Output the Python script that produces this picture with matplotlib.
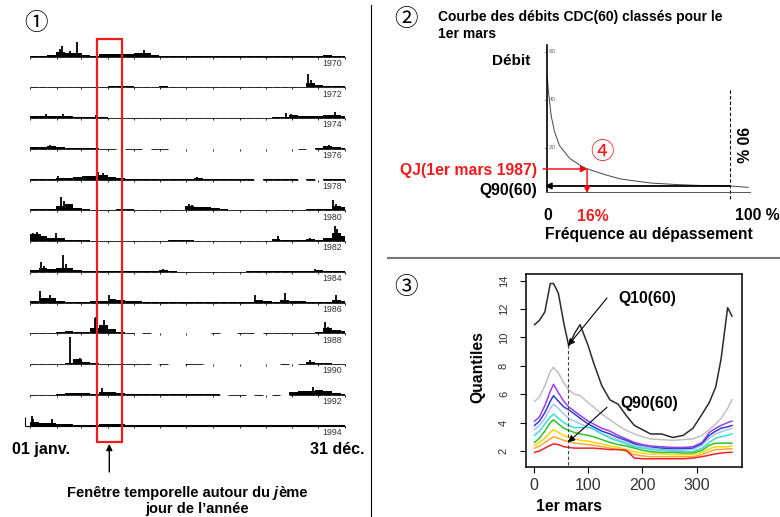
import numpy as np
import matplotlib
matplotlib.use('Agg')
import matplotlib.pyplot as plt
from matplotlib.patches import Rectangle

plt.rcParams['font.family'] = ['Liberation Sans', 'DejaVu Sans']
CJK = ['Noto Sans CJK JP', 'DejaVu Sans']
nan = np.nan

# ---------- panel 1 : hydrogrammes (pas de 10 jours, hauteur en px) ----------
years = [1970, 1972, 1974, 1976, 1978, 1980, 1982, 1984, 1986, 1988, 1990, 1992, 1994]

flow_1970 = [1, 1, 2, 5, 4, 4, 1.5, 1, 2.7, 2.7,
             3, 3, 3.3, 3.5, 1.5, 0.7, 0.5, 0.4, 0.3, 0.3,
             0.3, 0.3, 0.3, 0.3, 0.3, 0.3, 0.3, 0.3, 0.3, 0.3,
             0.3, 0.3, 0.3, 1, 1.5, 0.5, 0.3]
flow_1972 = [0.3, 0.3, 0.3, 0.6, 0.8, 0.6, 0.3, 0.3, 0.5, 1.2,
             1.5, 1, 0.5, 0.5, 0.8, 1.2, 0.6, 0.3, 0.3, 0.3,
             0.3, 0.3, 0.3, 0.3, 0.3, 0.3, 0.3, 0.3, 0.3, 0.3,
             0.3, 0.3, 4, 2.5, 1.2, 1, 1]
flow_1974 = [2, 2, 1.7, 2, 1.7, 1.2, 0.8, 1.5, 1.2, 0.5,
             0.3, 0.3, 0.3, 0.3, 0.3, 0.3, 0.3, 0.3, 0.3, 0.3,
             0.3, 0.3, 0.3, 0.3, 0.3, 0.3, 0.3, 0.3, 1, 1.5,
             3.5, 2, 2, 1.8, 3, 3.5, 2.5]
flow_1976 = [1.7, 1.7, 3, 1.7, 1.2, 0.7, 0.7, 0.5, 0.3, 0.3,
             nan, 0.3, 0.3, nan, 0.3, 0.3, nan, nan, nan, nan,
             nan, nan, nan, nan, nan, nan, nan, nan, nan, nan,
             nan, 0.3, nan, 1, 3, 1.5, 0.7]
flow_1978 = [0.7, 0.7, 1, 1.5, 1.5, 2.5, 4, 4, 5, 3,
             1.5, 0.8, 0.7, 0.7, 0.7, 0.7, 0.7, 0.7, 1, 2,
             0.8, 0.7, 0.7, 0.5, 0.5, 0.5, nan, 0.3, 0.3, 0.3,
             0.3, nan, 0.3, nan, 0.3, 0.7, 0.7]
flow_1980 = [1, 1, 1, 4, 6, 2.5, 1.5, 0.7, 0.5, 0.5,
             1, 1.3, 0.7, 0.5, 0.5, 0.7, 0.5, 0.7, 4, 3.5,
             3, 2.5, 1, 0.5, 0.5, 0.5, 0.5, 0.5, 0.5, 0.5,
             0.5, 0.7, 1, 1.2, 1.5, 4, 3]
flow_1982 = [7, 5, 3, 3.5, 1.5, 1, 0.8, 0.7, 0.7, 0.7,
             0.7, 0.7, 0.7, 0.7, 0.7, 0.7, 0.8, 1.5, 0.8, 0.5,
             0.5, 0.5, 0.5, 0.5, 0.5, 0.5, 0.5, 0.5, 2.5, 1.5,
             1.2, 1.3, 2, 1.3, 3, 8, 5]
flow_1984 = [1.5, 4, 2.5, 3.5, 4, 1.5, 1, 0.5, 0.5, 0.8,
             0.5, 0.5, 0.5, 0.5, 0.5, 1.5, 0.8, 0.4, 0.4, 0.4,
             0.4, 0.4, 0.4, 0.4, 0.4, 0.8, 1, 1.3, 1.3, 1.2,
             1, 0.8, 0.8, 2, 1, 0.7, 0.7]
flow_1986 = [2, 5, 5, 2, 0.7, 0.7, 0.7, 1.3, 2, 3.5,
             2.5, 1.5, 1.3, 1, 0.5, 0.5, 0.5, 0.5, 0.5, 0.5,
             0.5, 0.5, 0.5, 0.5, 0.5, 0.5, 3, 1.5, 0.5, 3,
             2, 1.5, 1, 1, 1, 2.5, 2]
flow_1988 = [0.7, 0.7, 0.7, 1.7, 2, 1.5, 1, 5, 8, 4,
             1.5, 0.5, nan, 0.3, nan, nan, nan, nan, nan, nan,
             nan, 0.3, nan, nan, 0.3, 0.3, nan, 0.3, 0.3, 0.3,
             0.5, 0.5, 0.5, 1, 5, 3, 2]
flow_1990 = [0.3, 0.3, 0.3, 0.3, 1, 5, 2.5, 1.5, 0.7, 0.5,
             0.5, 0.3, 0.3, 0.3, nan, 0.3, nan, nan, 0.3, 0.3,
             nan, nan, nan, nan, nan, nan, nan, nan, nan, 0.3,
             nan, 0.3, 2, 1.5, 1, 0.7, 0.7]
flow_1992 = [0.3, 0.3, 0.3, 0.5, 2.3, 2.3, 1.5, 1, 3, 2.5,
             1.5, 0.7, 0.5, 0.5, 0.5, 0.5, 0.5, 0.5, 0.5, 0.5,
             0.5, 0.5, nan, 0.3, 0.3, nan, 0.3, nan, 0.3, nan,
             3, 3.5, 3.5, 4.5, 3.5, 1.5, 1]
flow_1994 = [4, 3, 3, 2, 1.5, 1, 1, 1, 1.5, 1.3,
             1.3, 0.5, 0.3, 0.3, 0.7, 0.5, 0.3, 0.3, 0.3, 0.3,
             0.3, 0.3, 0.3, 0.3, 0.3, 0.3, 0.3, 0.3, 0.3, 0.3,
             0.3, 0.3, 0.3, 0.3, 0.7, 0.7, 0.7]

# pointes de crue (jour, hauteur)
peaks_1970 = [(35, 8), (37, 11), (46, 6), (54, 15), (132, 7)]
peaks_1972 = [(322, 13), (326, 7)]
peaks_1974 = [(19, 4), (38, 4), (77, 3), (297, 5), (302, 4.5), (353, 6)]
peaks_1976 = [(23, 4), (346, 4)]
peaks_1978 = [(33, 4), (79, 8), (85, 6.7), (193, 2.7)]
peaks_1980 = [(36, 13), (39, 9), (184, 6.7), (188, 5), (351, 10), (354, 6)]
peaks_1982 = [(4, 8), (8, 9), (12, 7), (30, 8), (287, 5), (325, 3.3), (353, 15), (356, 12)]
peaks_1984 = [(13, 10), (16, 6), (38, 16.7), (42, 8), (154, 2.7), (330, 3.3)]
peaks_1986 = [(12, 11.7), (23, 8), (91, 8), (261, 8), (296, 10), (355, 8)]
peaks_1988 = [(75, 15), (77, 16.7), (86, 13), (342, 11.7), (345, 6)]
peaks_1990 = [(46, 27), (58, 6.7), (325, 4)]
peaks_1992 = [(83, 6.7), (328, 8), (335, 5)]
peaks_1994 = [(2, 10), (4, 7), (25, 6.7)]

flows = [flow_1970, flow_1972, flow_1974, flow_1976, flow_1978, flow_1980, flow_1982,
         flow_1984, flow_1986, flow_1988, flow_1990, flow_1992, flow_1994]
peaks = [peaks_1970, peaks_1972, peaks_1974, peaks_1976, peaks_1978, peaks_1980, peaks_1982,
         peaks_1984, peaks_1986, peaks_1988, peaks_1990, peaks_1992, peaks_1994]
month_days = [0, 31, 59, 90, 120, 151, 181, 212, 243, 273, 304, 334, 365]

# ---------- panel 2 : courbe des débits classés ----------
cdc_freq = [0, 0.5, 1, 2, 3.5, 6, 11, 16, 19, 29, 36, 51, 63, 75, 90, 99]
cdc_debit = [49.6, 44, 40, 33, 27, 21, 15.7, 12.9, 11.5, 8.75, 7.1, 5.4, 4.8, 4.4, 4.2, 3.6]
cdc_ticks = [20, 40, 60]
qj_1987 = 11.25
qj_freq = 19.6
q90_60 = 4.17
freq_90 = 90

# ---------- panel 3 : quantiles journaliers ----------
q_days = [1, 10, 20, 30, 36, 45, 55, 64, 75, 85, 100, 110, 125, 140, 155, 170, 185,
          200, 215, 235, 256, 275, 293, 310, 323, 335, 345, 357, 365]
q_black = [10.9, 11.2, 11.8, 13.8, 13.8, 13.1, 11.0, 9.4, 10.3, 10.9, 9.4, 8.2, 6.6, 5.6, 5.3,
           4.5, 3.8, 3.5, 3.2, 3.2, 2.95, 3.1, 3.6, 4.6, 5.4, 6.5, 8.5, 12.1, 11.5]
q_gray = [5.5, 5.8, 6.6, 7.6, 7.9, 7.5, 6.8, 6.3, 6.0, 5.9, 5.4, 5.1, 4.6, 4.2, 3.8,
          3.45, 3.2, 3.0, 2.85, 2.8, 2.75, 2.8, 2.85, 3.1, 3.5, 3.9, 4.3, 5.0, 5.6]
q_purple = [4.1, 4.4, 5.2, 6.2, 6.7, 6.1, 5.5, 5.1, 4.8, 4.5, 4.1, 3.9, 3.6, 3.4, 3.1,
            2.85, 2.6, 2.45, 2.35, 2.3, 2.25, 2.25, 2.3, 2.6, 3.3, 3.6, 3.8, 4.0, 4.1]
q_blue = [3.8, 4.1, 4.7, 5.5, 5.9, 5.5, 5.1, 4.9, 4.6, 4.3, 3.9, 3.7, 3.4, 3.2, 2.95,
          2.75, 2.5, 2.35, 2.25, 2.2, 2.15, 2.15, 2.2, 2.5, 3.1, 3.4, 3.6, 3.7, 3.8]
q_lavender = [3.5, 3.8, 4.3, 5.0, 5.3, 5.0, 4.6, 4.3, 4.1, 3.9, 3.7, 3.5, 3.2, 3.0, 2.8,
              2.6, 2.4, 2.3, 2.2, 2.1, 2.05, 2.05, 2.1, 2.4, 2.9, 3.2, 3.35, 3.5, 3.6]
q_cyan = [3.1, 3.4, 3.9, 4.4, 4.6, 4.3, 4.0, 3.8, 3.65, 3.65, 3.65, 3.6, 3.2, 2.9, 2.7,
          2.5, 2.3, 2.2, 2.1, 2.05, 2.0, 1.95, 1.95, 2.2, 2.6, 2.9, 3.0, 3.1, 3.2]
q_green = [2.6, 2.9, 3.4, 4.0, 4.2, 3.9, 3.6, 3.45, 3.3, 3.2, 3.1, 3.0, 2.8, 2.6, 2.45,
           2.35, 2.2, 2.05, 1.95, 1.9, 1.9, 1.85, 1.85, 2.05, 2.4, 2.55, 2.55, 2.55, 2.55]
q_yellow = [2.4, 2.6, 2.9, 3.3, 3.5, 3.3, 3.1, 2.95, 2.85, 2.75, 2.7, 2.6, 2.5, 2.35, 2.25,
            2.1, 1.95, 1.85, 1.8, 1.8, 1.75, 1.75, 1.75, 1.9, 2.15, 2.3, 2.3, 2.3, 2.35]
q_orange = [2.2, 2.35, 2.6, 2.85, 3.0, 2.9, 2.75, 2.65, 2.55, 2.5, 2.45, 2.4, 2.3, 2.2, 2.1,
            2.0, 1.75, 1.65, 1.6, 1.6, 1.6, 1.6, 1.6, 1.75, 1.95, 2.1, 2.1, 2.15, 2.15]
q_red = [1.9, 2.0, 2.2, 2.4, 2.5, 2.45, 2.3, 2.25, 2.2, 2.2, 2.2, 2.2, 2.15, 2.1, 2.1,
         2.05, 1.5, 1.45, 1.45, 1.45, 1.45, 1.45, 1.5, 1.6, 1.7, 1.8, 1.85, 1.9, 1.9]
q_curves = [q_gray, q_purple, q_blue, q_lavender, q_cyan, q_green, q_yellow, q_orange, q_red, q_black]
q_colors = ['#c0c0c0', '#9a3ee8', '#2f3fd0', '#a9c4ee', '#3fdcdc', '#2fc02f', '#f5d800',
            '#ffa63a', '#e8262a', '#2b2b2b']
day_mars = 62

# ---------------------------------------------------------------
W, H = 780, 517
fig = plt.figure(figsize=(7.8, 5.17), dpi=100)


def px_axes(l, t, r, b):
    return fig.add_axes([l / W, 1 - b / H, (r - l) / W, (b - t) / H])


# panel 1
hx = px_axes(0, 0, 371, H)
hx.set_xlim(-30 / 0.863, 341 / 0.863)
hx.set_ylim(H, 0)
hx.axis('off')
bin_days = np.arange(0, 370, 10)
bin_w = np.minimum(10, 365 - bin_days)
for i, (yr, fl, pk) in enumerate(zip(years, flows, peaks)):
    base = 56.7 + 30.75 * i
    fl = np.array(fl, float)
    ok = ~np.isnan(fl)
    hx.bar(bin_days[ok], -fl[ok], width=bin_w[ok], bottom=base, align='edge',
           color='black', lw=0)
    hx.hlines(np.full(ok.sum(), base), bin_days[ok], bin_days[ok] + bin_w[ok],
              color='black', lw=0.6)
    hx.vlines(month_days, base, base + 1.8, color='black', lw=0.6)
    pdays, pheights = zip(*pk)
    hx.vlines(pdays, base, base - np.array(pheights), color='black', lw=1.3)
    hx.text(362, base + 2.2, str(yr), ha='right', va='top', fontsize=6.3, color='#333333')
last = 56.7 + 30.75 * 12
hx.vlines(-6, last - 9, last, color='black', lw=0.8)
hx.hlines(last, -6, 365, color='black', lw=0.8)

# panel 2
p2 = px_axes(547.3, 45, 750.3, 191.7)
p2.set_xlim(0, 100)
p2.set_ylim((196 - 191.7) / 2.4, (196 - 45) / 2.4)
p2.patch.set_alpha(0)
for s in ['top', 'right']:
    p2.spines[s].set_visible(False)
p2.spines['left'].set_linewidth(1.2)
p2.spines['bottom'].set_linewidth(0.7)
p2.spines['bottom'].set_color('#555555')
p2.set_xticks([])
p2.set_yticks(cdc_ticks)
p2.tick_params(axis='y', length=2, width=0.5, color='#888888', labelleft=False)
for v in cdc_ticks:
    p2.text(0.8, v, str(v), fontsize=4.5, color='#666666', va='center', ha='left')
p2.plot(cdc_freq, cdc_debit, color='#444444', lw=0.7)
p2.plot([freq_90, freq_90], [44.2, -1.7], ls=(0, (3, 2)), color='black', lw=0.8, clip_on=False)
p2.annotate('', xy=(-1.2, q90_60), xytext=(freq_90, q90_60), annotation_clip=False,
            arrowprops=dict(arrowstyle='-|>', color='black', lw=1.3, mutation_scale=9,
                            shrinkA=0, shrinkB=0))
p2.annotate('', xy=(qj_freq, qj_1987), xytext=(-2.1, qj_1987), annotation_clip=False,
            arrowprops=dict(arrowstyle='-|>', color='red', lw=1, mutation_scale=9,
                            shrinkA=0, shrinkB=0))
p2.annotate('', xy=(qj_freq, 1.25), xytext=(qj_freq, qj_1987), annotation_clip=False,
            arrowprops=dict(arrowstyle='-|>', color='red', lw=1, mutation_scale=9,
                            shrinkA=0, shrinkB=0))

# panel 3
p3 = px_axes(526, 274, 742, 467.3)
p3.set_xlim(-14.75, 383.5)
p3.set_ylim(0.85, 14.47)
for vals, col in zip(q_curves, q_colors):
    p3.plot(q_days, vals, color=col, lw=1.1)
p3.plot([day_mars, day_mars], [9.45, 0.85], ls=(0, (3, 2)), color='#444444', lw=0.8)
p3.set_xticks([0, 100, 200, 300])
p3.set_yticks([2, 4, 6, 8, 10, 12, 14])
p3.tick_params(axis='x', direction='out', length=4.3, width=0.8, pad=3.5,
               labelsize=11.5, labelcolor='#333333')
p3.tick_params(axis='y', direction='out', length=4.3, width=0.8, pad=8,
               labelsize=8, labelcolor='#333333')
for lbl in p3.get_yticklabels():
    lbl.set_rotation(90)
    lbl.set_va('center')
for s in p3.spines.values():
    s.set_linewidth(1.1)
arrow_kw = dict(arrowstyle='-|>', color='black', lw=0.8, mutation_scale=10, shrinkA=0, shrinkB=0)
p3.annotate('', xy=(62.7, 9.42), xytext=(134.6, 12.78), arrowprops=arrow_kw)
p3.annotate('', xy=(62.7, 2.61), xytext=(134.6, 5.08), arrowprops=arrow_kw)
p3.text(155, 12.4, 'Q10(60)', fontsize=11.3, fontweight='bold', va='baseline')
p3.text(158.6, 5.0, 'Q90(60)', fontsize=11.3, fontweight='bold', va='baseline')

# overlay : textes, flèches, séparateurs
ov = px_axes(0, 0, W, H)
ov.set_xlim(0, W)
ov.set_ylim(H, 0)
ov.axis('off')
ov.set_zorder(10)

ov.plot([370.7, 370.7], [5, H], color='black', lw=0.8)
ov.plot([388, W], [257.5, 257.5], color='#777777', lw=1.5)
ov.add_patch(Rectangle((97, 39.3), 25, 402.4, fill=False, edgecolor='#ee1c1c', lw=1.6))
ov.annotate('', xy=(109.3, 444), xytext=(109.3, 472),
            arrowprops=dict(arrowstyle='-|>', color='black', lw=1, mutation_scale=9,
                            shrinkA=0, shrinkB=0))

ov.text(36.5, 24, '①', fontsize=17, family=CJK, ha='center', va='center')
ov.text(405.8, 19, '②', fontsize=17, family=CJK, ha='center', va='center')
ov.text(406, 287, '③', fontsize=17, family=CJK, ha='center', va='center')
ov.text(602.5, 152.5, '④', fontsize=17, family=CJK, ha='center', va='center', color='#ee1c1c')

bold = dict(fontweight='bold', va='baseline')
ov.text(438.3, 20.7, 'Courbe des débits CDC(60) classés pour le', fontsize=10, **bold)
ov.text(438.3, 37.7, '1er mars', fontsize=10, **bold)
ov.text(491.7, 65, 'Débit', fontsize=11, **bold)
ov.text(536.7, 174.5, 'QJ(1er mars 1987)', fontsize=11.3, color='#ee1c1c', ha='right', **bold)
ov.text(536.7, 195, 'Q90(60)', fontsize=11.3, ha='right', **bold)
ov.text(741, 145, '90 %', fontsize=11.3, rotation=-90, ha='center', va='center', fontweight='bold')
ov.text(548, 220, '0', fontsize=11.3, ha='center', **bold)
ov.text(593, 220.7, '16%', fontsize=11.3, ha='center', color='#ee1c1c', **bold)
ov.text(735, 220, '100 %', fontsize=11.3, **bold)
ov.text(545, 238.5, 'Fréquence au dépassement', fontsize=11.3, **bold)

ov.text(477.5, 367.5, 'Quantiles', fontsize=11.3, rotation=90, ha='center', va='center',
        fontweight='bold')
ov.text(569, 511, '1er mars', fontsize=11.3, ha='center', **bold)

ov.text(11.7, 454, '01 janv.', fontsize=11.5, **bold)
ov.text(365, 454, '31 déc.', fontsize=11.5, ha='right', **bold)
t1 = ov.text(66.7, 496.7, 'Fenêtre temporelle autour du ', fontsize=10.5, **bold)
t2 = ov.annotate('j', xy=(1, 0), xycoords=t1, va='bottom', fontsize=10.5,
                 fontweight='bold', style='italic')
ov.annotate('ème', xy=(1, 0), xycoords=t2, va='bottom', fontsize=10.5, fontweight='bold')
ov.text(196.7, 513.3, 'jour de l’année', fontsize=10.5, ha='center', **bold)

fig.savefig('out.png', dpi=100)
